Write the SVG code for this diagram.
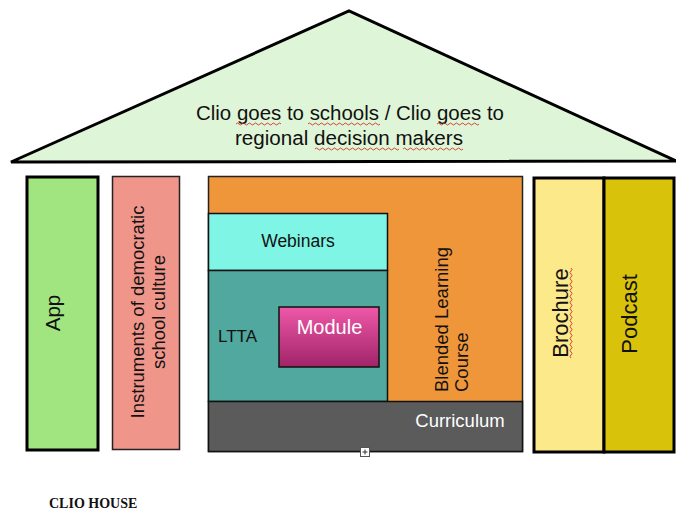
<svg xmlns="http://www.w3.org/2000/svg" width="676" height="511" viewBox="0 0 676 511">
<style>
.t{font-family:"Liberation Sans",Arial,sans-serif;fill:#111}
.w{fill:#fff}
.sq{fill:none;stroke:#d0302a;stroke-width:0.9}
</style>
<defs>
<linearGradient id="gm" x1="0" y1="0" x2="0" y2="1">
<stop offset="0" stop-color="#ee58a8"/>
<stop offset="1" stop-color="#a02468"/>
</linearGradient>
</defs>
<rect width="676" height="511" fill="#fff"/>
<g id="roof">
<polygon points="11,162 349,11 676,161" fill="#dff5d8" stroke="#000" stroke-width="3" stroke-linejoin="miter"/>
<text class="t" font-size="20" x="196" y="120" textLength="308" lengthAdjust="spacingAndGlyphs">Clio goes to schools / Clio goes to</text>
<text class="t" font-size="20" x="235" y="145" textLength="228" lengthAdjust="spacingAndGlyphs">regional decision makers</text>
<path class="sq" d="M236,124 q1.5,-2 3,0 t3,0 t3,0 t3,0 t3,0 t3,0 t3,0 t3,0 t3,0 t3,0 t3,0 t3,0 t3,0 t3,0 t3,0"/>
<path class="sq" d="M308,124 q1.5,-2 3,0 t3,0 t3,0 t3,0 t3,0 t3,0 t3,0 t3,0 t3,0 t3,0 t3,0 t3,0 t3,0 t3,0 t3,0 t3,0 t3,0 t3,0 t3,0 t3,0 t3,0 t3,0 t3,0 t3,0"/>
<path class="sq" d="M437,124 q1.5,-2 3,0 t3,0 t3,0 t3,0 t3,0 t3,0 t3,0 t3,0 t3,0 t3,0 t3,0 t3,0 t3,0 t3,0"/>
<path class="sq" d="M315,149 q1.5,-2 3,0 t3,0 t3,0 t3,0 t3,0 t3,0 t3,0 t3,0 t3,0 t3,0 t3,0 t3,0 t3,0 t3,0 t3,0 t3,0 t3,0 t3,0 t3,0 t3,0 t3,0 t3,0 t3,0 t3,0 t3,0 t3,0 t3,0 t3,0"/>
<path class="sq" d="M403,149 q1.5,-2 3,0 t3,0 t3,0 t3,0 t3,0 t3,0 t3,0 t3,0 t3,0 t3,0 t3,0 t3,0 t3,0 t3,0 t3,0 t3,0 t3,0 t3,0 t3,0 t3,0"/>
</g>
<g id="app">
<rect x="27" y="177" width="71" height="273" fill="#a0e57f" stroke="#000" stroke-width="3"/>
<text class="t" font-size="20.5" text-anchor="middle" transform="translate(60,313) rotate(-90)">App</text>
</g>
<g id="instruments">
<rect x="112.5" y="176.5" width="67" height="273" fill="#f0958a" stroke="#222" stroke-width="1.5"/>
<text class="t" font-size="18.5" text-anchor="middle" transform="translate(143.5,312) rotate(-90)">Instruments of democratic</text>
<text class="t" font-size="18.5" text-anchor="middle" transform="translate(164.5,312) rotate(-90)">school culture</text>
</g>
<g id="blended">
<rect x="208.5" y="176.5" width="314" height="275" fill="#f0963a" stroke="#222" stroke-width="1.5"/>
<text class="t" font-size="18.5" transform="translate(447.5,392) rotate(-90)">Blended Learning</text>
<text class="t" font-size="18.5" transform="translate(467.5,392) rotate(-90)">Course</text>
</g>
<g id="webinars">
<rect x="208.5" y="213.5" width="179" height="57" fill="#7ff5e5" stroke="#111" stroke-width="1.5"/>
<text class="t" font-size="17.5" text-anchor="middle" x="298" y="247">Webinars</text>
</g>
<g id="ltta">
<rect x="208.5" y="270.5" width="179" height="131" fill="#50a89f" stroke="#111" stroke-width="1.5"/>
<text class="t" font-size="17" x="218" y="342">LTTA</text>
</g>
<g id="module">
<rect x="279" y="307" width="100" height="60" fill="url(#gm)" stroke="#111" stroke-width="1.5"/>
<text class="t w" font-size="20" text-anchor="middle" x="329.5" y="334">Module</text>
</g>
<g id="curriculum">
<rect x="208.5" y="401.5" width="314" height="50" fill="#5b5b5b" stroke="#111" stroke-width="1.5"/>
<text class="t w" font-size="18.5" text-anchor="middle" x="460" y="427">Curriculum</text>
</g>
<g id="brochure">
<rect x="534" y="178" width="70" height="274" fill="#fce98a" stroke="#000" stroke-width="3"/>
<text class="t" font-size="22" text-anchor="middle" transform="translate(568,313) rotate(-90)">Brochure</text>
<path class="sq" d="M571,268 q2,1.5 0,3 t0,3 t0,3 t0,3 t0,3 t0,3 t0,3 t0,3 t0,3 t0,3 t0,3 t0,3 t0,3 t0,3 t0,3 t0,3 t0,3 t0,3 t0,3 t0,3 t0,3 t0,3 t0,3 t0,3 t0,3 t0,3 t0,3 t0,3 t0,3 t0,3"/>
</g>
<g id="podcast">
<rect x="604" y="178" width="70" height="274" fill="#d9c20a" stroke="#000" stroke-width="3"/>
<text class="t" font-size="22" text-anchor="middle" transform="translate(637,314) rotate(-90)">Podcast</text>
</g>
<g id="handle">
<rect x="360.5" y="447.5" width="9" height="9" fill="#fff" stroke="#555" stroke-width="1"/>
<path d="M362.5,452 h5 M365,449.5 v5" stroke="#333" stroke-width="1"/>
</g>
<g id="connectors"></g>
<text x="49" y="508" font-family="Liberation Serif,serif" font-weight="bold" font-size="14" fill="#111">CLIO HOUSE</text>
</svg>
